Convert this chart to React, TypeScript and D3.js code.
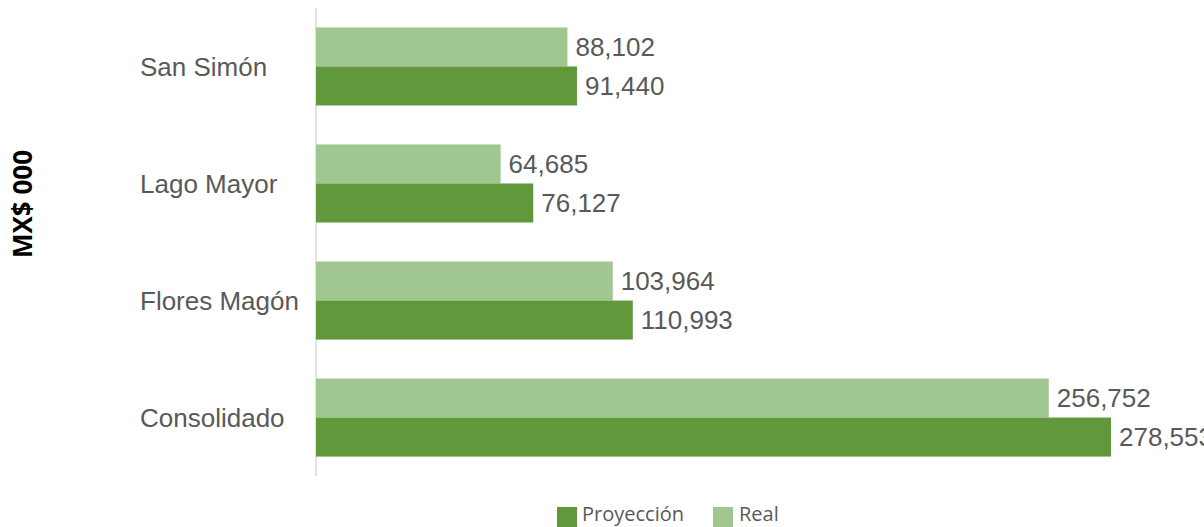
import React from "react";
import * as d3 from "d3";

const categories = ["San Simón", "Lago Mayor", "Flores Magón", "Consolidado"];
const seriesNames = ["Real", "Proyección"];
const realValues = [88102, 64685, 103964, 256752];
const proyeccionValues = [91440, 76127, 110993, 278553];
const axisTitle = "MX$ 000";
const legendItems = ["Proyección", "Real"];

const colors: Record<string, string> = { "Proyección": "#61983c", Real: "#a0c78f" };

export default function App() {
  const W = 1204, H = 527;
  const x0 = 316;
  const x = d3.scaleLinear().domain([0, 278553]).range([x0, 1111]);
  const y = d3.scaleBand().domain(categories).range([8, 476]).paddingInner(0.333).paddingOuter(0.166);
  const sub = d3.scaleBand().domain(seriesNames).range([0, y.bandwidth()]);
  const fmt = d3.format(",");
  const data: Record<string, number[]> = { Real: realValues, "Proyección": proyeccionValues };
  return (
    <svg width={W} height={H} style={{ position: "absolute", left: 0, top: 0, background: "#fff" }}>
      <line x1={x0} x2={x0} y1={8} y2={476} stroke="#d9d9d9" strokeWidth={1.5} />
      {categories.map((c, i) => (
        <g key={c}>
          <text x={140} y={(y(c) as number) + y.bandwidth() / 2} dy="0.35em" fontFamily="Liberation Sans, Arial, sans-serif" fontSize={26} fill="#595959">{c}</text>
          {seriesNames.map((s) => {
            const v = data[s][i];
            const by = (y(c) as number) + (sub(s) as number);
            return (
              <g key={s}>
                <rect x={x0} y={by} width={x(v) - x0} height={sub.bandwidth()} fill={colors[s]} />
                <text x={x(v) + 8} y={by + sub.bandwidth() / 2} dy="0.35em" fontFamily="Liberation Sans, Arial, sans-serif" fontSize={26} fill="#595959">{fmt(v)}</text>
              </g>
            );
          })}
        </g>
      ))}
      <text transform="translate(32,204) rotate(-90)" textAnchor="middle" fontFamily="Open Sans, sans-serif" fontWeight="bold" fontSize={26} fill="#000">{axisTitle}</text>
      <g fontFamily="Open Sans, sans-serif" fontSize={20} fill="#595959">
        <rect x={557} y={507} width={20} height={20} fill={colors[legendItems[0]]} />
        <text x={582} y={521}>{legendItems[0]}</text>
        <rect x={713} y={507} width={20} height={20} fill={colors[legendItems[1]]} />
        <text x={739} y={521}>{legendItems[1]}</text>
      </g>
    </svg>
  );
}
